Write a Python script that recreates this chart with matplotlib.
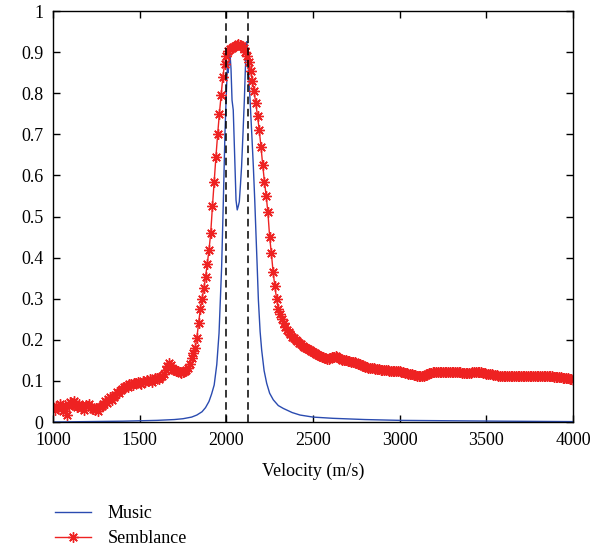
import numpy as np
import matplotlib.pyplot as plt

# velocity axis (m/s)
v_semb = np.arange(1000, 4001, 10)

# semblance, one value every 10 m/s
semblance = [
    0.036, 0.030, 0.040, 0.033, 0.045, 0.038, 0.028, 0.042, 0.018, 0.040,  # 1000
    0.048, 0.044, 0.050, 0.041, 0.036, 0.043, 0.035, 0.038, 0.030, 0.042,  # 1100
    0.038, 0.044, 0.036, 0.032, 0.030, 0.034, 0.028, 0.036, 0.040, 0.043,  # 1200
    0.050, 0.046, 0.055, 0.060, 0.054, 0.062, 0.066, 0.072, 0.070, 0.078,  # 1300
    0.080, 0.084, 0.088, 0.086, 0.092, 0.093, 0.090, 0.096, 0.094, 0.098,  # 1400
    0.096, 0.093, 0.099, 0.097, 0.102, 0.100, 0.104, 0.098, 0.103, 0.107,  # 1500
    0.106, 0.104, 0.110, 0.113, 0.118, 0.126, 0.136, 0.143, 0.138, 0.130,  # 1600
    0.127, 0.123, 0.125, 0.121, 0.119, 0.122, 0.124, 0.127, 0.131, 0.142,  # 1700
    0.155, 0.167, 0.180, 0.205, 0.240, 0.275, 0.300, 0.325, 0.352, 0.385,  # 1800
    0.418, 0.460, 0.525, 0.585, 0.645, 0.700, 0.750, 0.795, 0.840, 0.870,  # 1900
    0.890, 0.903, 0.908, 0.910, 0.912, 0.915, 0.918, 0.920, 0.918, 0.915,  # 2000
    0.910, 0.900, 0.890, 0.875, 0.855, 0.830, 0.805, 0.775, 0.745, 0.710,  # 2100
    0.670, 0.625, 0.585, 0.550, 0.510, 0.450, 0.410, 0.365, 0.330, 0.300,  # 2200
    0.275, 0.262, 0.250, 0.240, 0.232, 0.224, 0.218, 0.213, 0.208, 0.204,  # 2300
    0.200, 0.196, 0.192, 0.189, 0.186, 0.183, 0.181, 0.178, 0.175, 0.173,  # 2400
    0.170, 0.168, 0.165, 0.163, 0.161, 0.159, 0.157, 0.155, 0.154, 0.153,  # 2500
    0.155, 0.157, 0.159, 0.160, 0.158, 0.156, 0.154, 0.152, 0.151, 0.150,  # 2600
    0.149, 0.148, 0.147, 0.146, 0.145, 0.144, 0.142, 0.140, 0.138, 0.136,  # 2700
    0.134, 0.133, 0.132, 0.132, 0.131, 0.131, 0.130, 0.129, 0.128, 0.127,  # 2800
    0.127, 0.126, 0.126, 0.126, 0.125, 0.125, 0.125, 0.124, 0.124, 0.123,  # 2900
    0.123, 0.122, 0.121, 0.120, 0.119, 0.118, 0.117, 0.116, 0.115, 0.114,  # 3000
    0.113, 0.113, 0.112, 0.112, 0.113, 0.115, 0.117, 0.119, 0.120, 0.121,  # 3100
    0.121, 0.122, 0.122, 0.122, 0.122, 0.122, 0.122, 0.122, 0.121, 0.121,  # 3200
    0.121, 0.121, 0.122, 0.122, 0.121, 0.121, 0.120, 0.120, 0.120, 0.120,  # 3300
    0.120, 0.120, 0.121, 0.121, 0.122, 0.122, 0.122, 0.121, 0.120, 0.119,  # 3400
    0.118, 0.117, 0.116, 0.116, 0.115, 0.114, 0.114, 0.113, 0.113, 0.112,  # 3500
    0.112, 0.112, 0.111, 0.111, 0.111, 0.111, 0.111, 0.112, 0.112, 0.112,  # 3600
    0.112, 0.113, 0.113, 0.113, 0.113, 0.113, 0.113, 0.113, 0.113, 0.113,  # 3700
    0.113, 0.113, 0.112, 0.112, 0.112, 0.112, 0.111, 0.111, 0.111, 0.110,  # 3800
    0.110, 0.110, 0.109, 0.109, 0.108, 0.107, 0.107, 0.106, 0.105, 0.104,  # 3900
    0.103,                                                                 # 4000
]

# MUSIC spectrum, sampled more finely around the peak
v_music = [1000, 1100, 1200, 1300, 1400, 1500, 1600, 1650, 1700, 1750,
           1800, 1830, 1860, 1880, 1900, 1915, 1930, 1945, 1958, 1973,
           1983, 1992, 2000, 2006, 2010, 2015, 2021, 2027, 2033, 2040,
           2048, 2056, 2063, 2069, 2075, 2082, 2088, 2096, 2104, 2110,
           2117, 2122, 2130, 2137, 2147, 2156, 2164, 2171, 2178, 2185,
           2195, 2204, 2218, 2233, 2250, 2271, 2300, 2329, 2380, 2425,
           2500, 2615, 2800, 3000, 3300, 3600, 4000]
music = [0.0, 0.0005, 0.001, 0.0015, 0.002, 0.003, 0.004, 0.005, 0.006, 0.008,
         0.012, 0.017, 0.025, 0.035, 0.05, 0.068, 0.09, 0.14, 0.216, 0.377,
         0.54, 0.70, 0.80, 0.864, 0.85, 0.87, 0.897, 0.86, 0.783, 0.759,
         0.65, 0.54, 0.516, 0.525, 0.536, 0.58, 0.621, 0.70, 0.783, 0.86,
         0.925, 0.90, 0.84, 0.783, 0.70, 0.621, 0.54, 0.459, 0.38, 0.297,
         0.22, 0.175, 0.125, 0.094, 0.07, 0.054, 0.04, 0.033, 0.023, 0.017,
         0.012, 0.009, 0.006, 0.004, 0.003, 0.002, 0.001]

# picked velocity bounds
v_marks = [2000, 2125]

plt.rcParams['font.family'] = ['Liberation Serif', 'DejaVu Serif']
plt.rcParams['font.size'] = 13

fig = plt.figure(figsize=(6.11, 5.5), dpi=100)
ax = fig.add_axes([0.0867, 0.2327, 0.8511, 0.7473])

ax.plot(v_music, music, color='#2a4bb0', lw=1.0, label='Music')
# 8-armed asterisk marker
ax.plot(v_semb, semblance, color='#ee2222', lw=1.0, marker=(8, 2, 0),
        markersize=7.5, markeredgewidth=1.0, label='Semblance')
for vm in v_marks:
    ax.axvline(vm, color='k', ls='--', lw=1.1, dashes=(5, 3))

ax.set_xlim(1000, 4000)
ax.set_ylim(0, 1)
ax.set_xticks(np.arange(1000, 4001, 500))
ax.set_yticks(np.arange(0, 1.01, 0.1))
ax.set_yticklabels(['0', '0.1', '0.2', '0.3', '0.4', '0.5',
                    '0.6', '0.7', '0.8', '0.9', '1'])
ax.tick_params(direction='in', top=True, right=True, length=5, width=1, pad=7)
for s in ax.spines.values():
    s.set_linewidth(1.0)
ax.set_xlabel('Velocity (m/s)', labelpad=10)

fig.legend(loc='upper left', bbox_to_anchor=(55 / 611, 1 - 505 / 550),
           frameon=False, borderpad=0, borderaxespad=0, handlelength=2.0,
           handletextpad=0.9, labelspacing=0.45, numpoints=1)

fig.savefig('out.png', dpi=100)
